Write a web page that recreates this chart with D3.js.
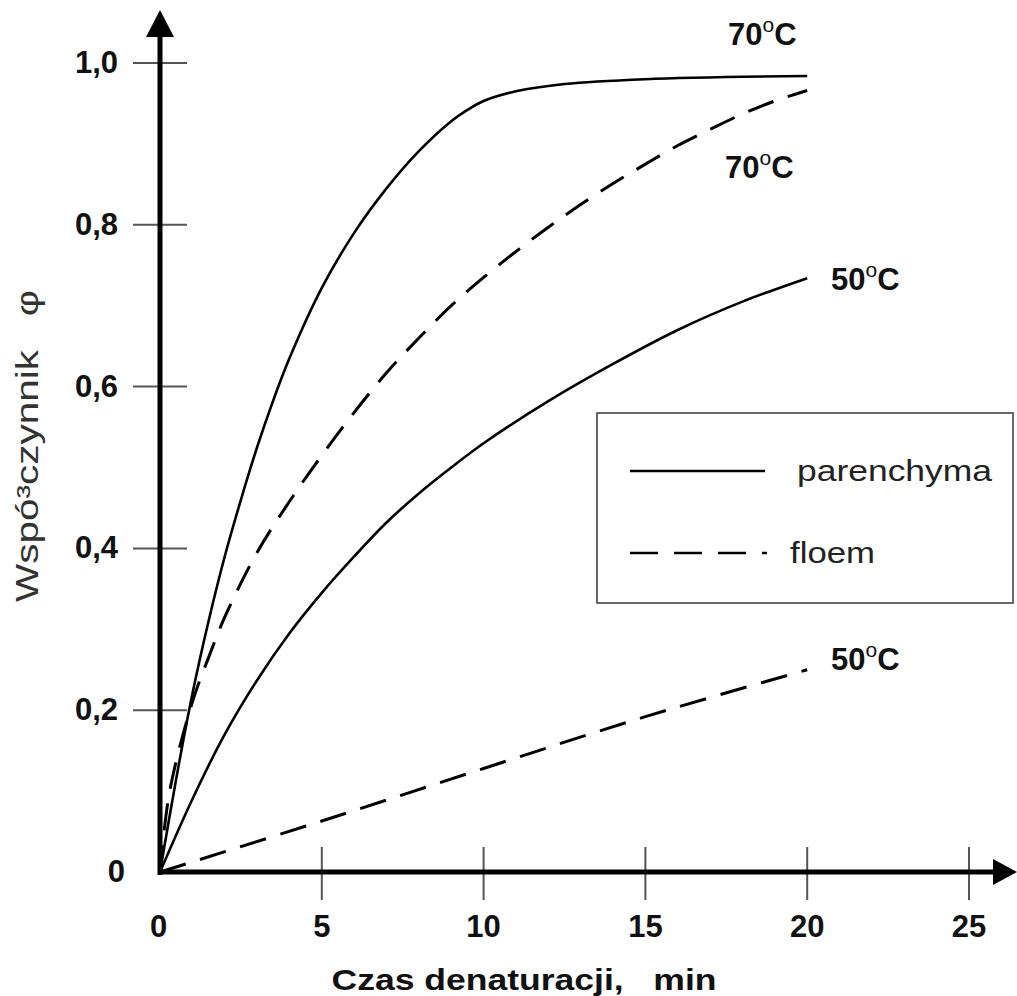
<!DOCTYPE html>
<html>
<head>
<meta charset="utf-8">
<script src="https://cdn.jsdelivr.net/npm/d3@7"></script>
<style>
  html, body { margin: 0; padding: 0; background: #fff; }
  svg { display: block; font-family: Arial, "Liberation Sans", Helvetica, sans-serif; }
</style>
</head>
<body>
<svg id="chart" width="1017" height="996"></svg>
<script>
// ---- data ----
const xTicks = [0, 5, 10, 15, 20, 25];
const xTickLabels = ["0", "5", "10", "15", "20", "25"];
const yTicks = [0, 0.2, 0.4, 0.6, 0.8, 1.0];
const yTickLabels = ["0", "0,2", "0,4", "0,6", "0,8", "1,0"];

const parenchyma70 = [[0,0],[0.5,0.115],[1,0.22],[1.5,0.31],[2,0.39],[2.5,0.46],[3,0.525],[3.5,0.583],[4,0.635],[5,0.722],[6,0.79],[7,0.845],[8,0.891],[9,0.928],[9.5,0.942],[10,0.953],[11,0.965],[12.5,0.974],[15,0.98],[20,0.984]];
const floem70 = [[0,0],[0.3,0.1],[1,0.21],[1.5,0.265],[2,0.315],[3,0.395],[4,0.458],[5,0.515],[6,0.568],[7,0.617],[8,0.66],[9,0.7],[10,0.735],[11,0.767],[12,0.797],[13,0.825],[14,0.851],[15,0.875],[16,0.898],[17,0.918],[18,0.937],[19,0.953],[20,0.966]];
const parenchyma50 = [[0,0],[1,0.09],[2,0.17],[3,0.237],[4,0.295],[5,0.345],[6,0.39],[7,0.432],[8,0.468],[9,0.5],[10,0.53],[12,0.582],[14,0.628],[16,0.67],[18,0.705],[20,0.734]];
const floem50 = [[0,0],[5,0.063],[10,0.128],[15,0.192],[20,0.25]];

const seriesNames = ["parenchyma", "floem"];
const curveLabels = [
  {num: "70", x: 728, y: 45},
  {num: "70", x: 725, y: 178},
  {num: "50", x: 831, y: 290},
  {num: "50", x: 831, y: 670}
];

// ---- drawing ----
const svg = d3.select("#chart");
const x = d3.scaleLinear().domain([0, 25]).range([160, 969]);
const y = d3.scaleLinear().domain([0, 1]).range([872, 63]);

// ticks (drawn crossing the axes)
const tickColor = "#555";
svg.append("g").selectAll("line").data(yTicks.slice(1)).join("line")
  .attr("x1", 133).attr("x2", 187)
  .attr("y1", d => y(d)).attr("y2", d => y(d))
  .attr("stroke", tickColor).attr("stroke-width", 2);
svg.append("g").selectAll("line").data(xTicks.slice(1)).join("line")
  .attr("x1", d => x(d)).attr("x2", d => x(d))
  .attr("y1", 847).attr("y2", 900)
  .attr("stroke", tickColor).attr("stroke-width", 2);

// tick labels
svg.append("g").selectAll("text").data(yTicks).join("text")
  .attr("x", (d, i) => d === 0 ? 125 : 118)
  .attr("y", d => y(d) + 10)
  .attr("text-anchor", "end")
  .attr("font-size", 31).attr("font-weight", "bold").attr("fill", "#111")
  .text((d, i) => yTickLabels[i]);
svg.append("g").selectAll("text").data(xTicks).join("text")
  .attr("x", d => x(d) - (d === 0 ? 1.5 : 0))
  .attr("y", 937)
  .attr("text-anchor", "middle")
  .attr("font-size", 31).attr("font-weight", "bold").attr("fill", "#111")
  .text((d, i) => xTickLabels[i]);

// curves
const line = d3.line().x(d => x(d[0])).y(d => y(d[1])).curve(d3.curveCatmullRom.alpha(0.5));
const curves = [
  {data: parenchyma70, dash: null},
  {data: floem70, dash: "27,15"},
  {data: parenchyma50, dash: null},
  {data: floem50, dash: "27,15"}
];
svg.append("g").selectAll("path").data(curves).join("path")
  .attr("d", d => line(d.data))
  .attr("fill", "none").attr("stroke", "#000")
  .attr("stroke-width", d => d.dash ? 3 : 2.6)
  .attr("stroke-dasharray", d => d.dash);

// axes with arrows
svg.append("line").attr("x1", x(0)).attr("x2", x(0)).attr("y1", 875).attr("y2", 36)
  .attr("stroke", "#000").attr("stroke-width", 5);
svg.append("line").attr("x1", 158).attr("x2", 995).attr("y1", y(0)).attr("y2", y(0))
  .attr("stroke", "#000").attr("stroke-width", 5);
svg.append("path").attr("d", `M${x(0)},10 L${x(0) - 14},37 L${x(0) + 14},37 Z`).attr("fill", "#000");
svg.append("path").attr("d", `M1017,${y(0)} L993,${y(0) - 13} L993,${y(0) + 13} Z`).attr("fill", "#000");

// curve labels (70°C etc.)
const lab = svg.append("g").selectAll("text").data(curveLabels).join("text")
  .attr("x", d => d.x).attr("y", d => d.y)
  .attr("font-size", 31).attr("font-weight", "bold").attr("fill", "#111");
lab.append("tspan").text(d => d.num);
lab.append("tspan").attr("dy", -13).attr("font-size", 21).attr("font-weight", "normal").text("o");
lab.append("tspan").attr("dy", 13).text("C");

// legend
svg.append("rect").attr("x", 597).attr("y", 413).attr("width", 416).attr("height", 190)
  .attr("fill", "#fff").attr("stroke", "#444").attr("stroke-width", 1.6);
const legendRows = [{y: 471, dash: null, tx: 797, ty: 481, len: 195}, {y: 553, dash: "28,16", tx: 790, ty: 563, len: 85}];
svg.append("g").selectAll("line").data(legendRows).join("line")
  .attr("x1", 630).attr("x2", d => d.dash ? 767 : 765)
  .attr("y1", d => d.y).attr("y2", d => d.y)
  .attr("stroke", "#000").attr("stroke-width", 2.5)
  .attr("stroke-dasharray", d => d.dash);
svg.append("g").selectAll("text").data(legendRows).join("text")
  .attr("x", d => d.tx).attr("y", d => d.ty)
  .attr("font-size", 30).attr("fill", "#222")
  .attr("textLength", d => d.len).attr("lengthAdjust", "spacingAndGlyphs")
  .text((d, i) => seriesNames[i]);

// axis titles
svg.append("text").attr("x", 524).attr("y", 990)
  .attr("text-anchor", "middle").attr("font-size", 30).attr("font-weight", "bold").attr("fill", "#111")
  .attr("textLength", 385).attr("lengthAdjust", "spacingAndGlyphs")
  .style("white-space", "pre")
  .text("Czas denaturacji,   min");
svg.append("text").attr("transform", "translate(38,446) rotate(-90)")
  .attr("text-anchor", "middle").attr("font-size", 31).attr("fill", "#333")
  .attr("textLength", 312).attr("lengthAdjust", "spacingAndGlyphs")
  .style("white-space", "pre")
  .text("Wspó³czynnik   φ");
</script>
</body>
</html>
